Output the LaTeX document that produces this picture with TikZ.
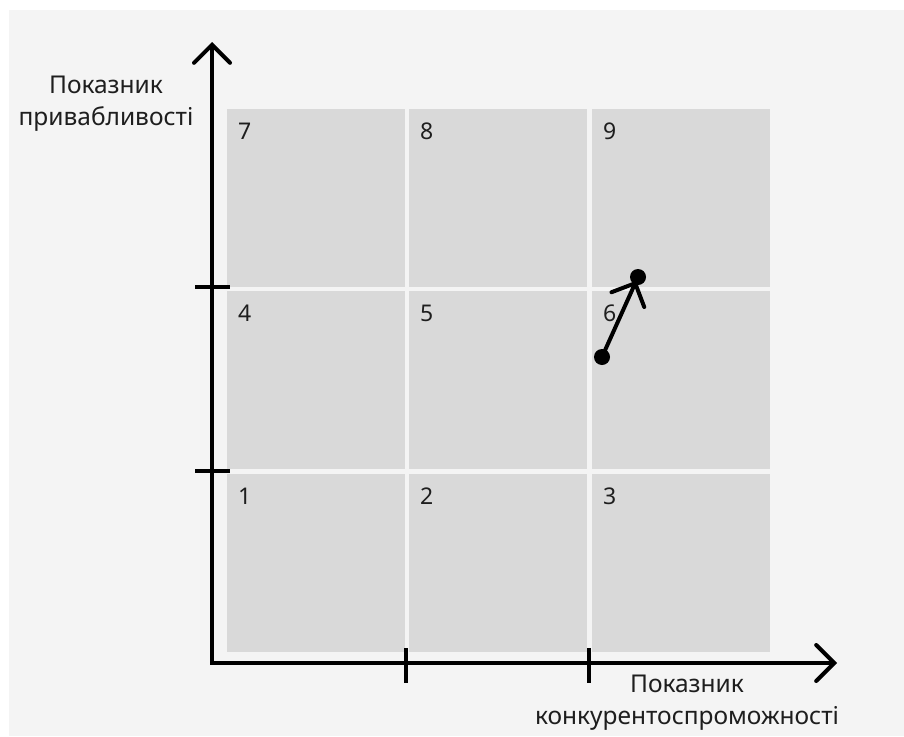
\documentclass[tikz,border=0pt]{standalone}
\usepackage{fontspec}
\setmainfont{Noto Sans}
\usetikzlibrary{arrows.meta}
\definecolor{bggray}{HTML}{F4F4F4}
\definecolor{cellgray}{HTML}{D9D9D9}
\definecolor{txt}{HTML}{1E1E1E}
\begin{document}
\begin{tikzpicture}[x=1pt,y=-1pt,
  cell/.style={fill=cellgray, draw=none, minimum width=178pt, minimum height=178pt, inner sep=0pt, anchor=north west},
  num/.style={anchor=north west, inner sep=0pt, text=txt, font=\fontsize{23}{23}\selectfont},
  lbl/.style={align=center, inner sep=0pt, text=txt, font=\fontsize{24.5}{32}\selectfont},
  axis/.style={line width=4pt, black},
  barb/.style={-{Straight Barb[length=18pt,width=36pt,line cap=round]}},
  tick/.style={line width=4pt, black},
  dot/.style={circle, fill=black, inner sep=0pt, minimum size=16pt}]
\useasboundingbox (0,0) rectangle (904,736);
\fill[white] (0,0) rectangle (904,736);
\fill[bggray] (9,10) rectangle (904,736);
% cells
\node[cell] (c7) at (227,109) {};
\node[cell] (c8) at (409,109) {};
\node[cell] (c9) at (592,109) {};
\node[cell] (c4) at (227,291) {};
\node[cell] (c5) at (409,291) {};
\node[cell] (c6) at (592,291) {};
\node[cell] (c1) at (227,474) {};
\node[cell] (c2) at (409,474) {};
\node[cell] (c3) at (592,474) {};
\foreach \i in {1,...,9}{
  \node[num] (n\i) at ([xshift=11pt,yshift=-14pt]c\i.north west) {\i};
}
% axes
\coordinate (O) at (212,663);
\coordinate (Ytip) at (212,42);
\coordinate (Xtip) at (837,663);
\draw[axis, line join=miter, {Straight Barb[length=18pt,width=36pt,line cap=round]}-{Straight Barb[length=18pt,width=36pt,line cap=round]}] (Ytip) -- (O) -- (Xtip);
% ticks
\coordinate (ty1a) at (195,287); \coordinate (ty1b) at (230,287);
\coordinate (ty2a) at (195,471); \coordinate (ty2b) at (230,471);
\coordinate (tx1a) at (406,648); \coordinate (tx1b) at (406,683);
\coordinate (tx2a) at (589,648); \coordinate (tx2b) at (589,683);
\draw[tick] (ty1a) -- (ty1b);
\draw[tick] (ty2a) -- (ty2b);
\draw[tick] (tx1a) -- (tx1b);
\draw[tick] (tx2a) -- (tx2b);
% labels
\node[lbl] (ylab) at (106,104) {Показник\\привабливості};
\node[lbl] (xlab) at (687,703) {Показник\\конкурентоспроможності};
% movement arrow
\node[dot] (d1) at (602,357) {};
\node[dot] (d2) at (638,277) {};
\draw[axis, barb, shorten >=4pt] (d1.center) -- (d2.center);
\end{tikzpicture}
\end{document}
